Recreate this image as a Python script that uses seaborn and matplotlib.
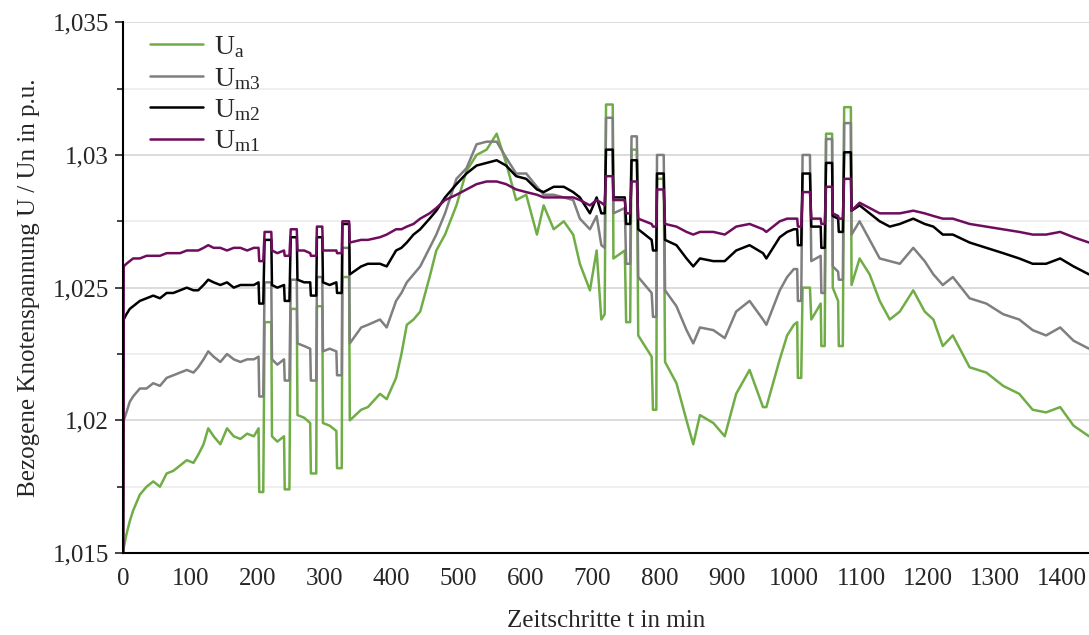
import numpy as np
import pandas as pd
import seaborn as sns
import matplotlib
matplotlib.use("Agg")
import matplotlib.pyplot as plt
from matplotlib.ticker import MultipleLocator

# Zeitschritte in min
t = [0, 1, 5, 10, 15, 25, 35, 45, 55, 65, 75, 85, 95, 105, 112, 120, 127, 135, 145, 155,
     165, 175, 185, 195, 202, 203, 209, 211, 221, 222, 230, 240, 241, 248, 250, 259, 260, 270,
     279, 280, 288, 289, 297, 298, 308, 318, 319, 326, 327, 337, 338, 355, 365, 383, 393, 407,
     415, 423, 433, 443, 457, 467, 480, 497, 512, 527, 542, 557, 571, 586, 601, 617, 627, 642,
     657, 671, 681, 696, 706, 713, 718, 720, 730, 731, 748, 750, 756, 758, 766, 768, 788, 790,
     795, 796, 806, 808, 825, 840, 850, 860, 880, 897, 914, 934, 954, 959, 979, 990, 1000,
     1005, 1006, 1011, 1013, 1024, 1026, 1040, 1041, 1046, 1048, 1057, 1058, 1066, 1067, 1073,
     1075, 1085, 1086, 1098, 1113, 1128, 1143, 1158, 1178, 1195, 1208, 1222, 1237, 1262, 1287,
     1312, 1336, 1356, 1376, 1397, 1417, 1440]

u_m1 = [1.0150, 1.0258, 1.0259, 1.0260, 1.0261, 1.0261, 1.0262, 1.0262, 1.0262, 1.0263, 1.0263,
        1.0263, 1.0264, 1.0264, 1.0264, 1.0265, 1.0266, 1.0265, 1.0265, 1.0264, 1.0265, 1.0265,
        1.0264, 1.0265, 1.0265, 1.0260, 1.0260, 1.0271, 1.0271, 1.0264, 1.0263, 1.0264, 1.0262,
        1.0262, 1.0272, 1.0272, 1.0264, 1.0264, 1.0263, 1.0262, 1.0262, 1.0273, 1.0273, 1.0264,
        1.0264, 1.0264, 1.0263, 1.0263, 1.0275, 1.0275, 1.0267, 1.0268, 1.0268, 1.0269, 1.0270,
        1.0272, 1.0272, 1.0273, 1.0274, 1.0276, 1.0278, 1.0280, 1.0283, 1.0285, 1.0287, 1.0289,
        1.0290, 1.0290, 1.0289, 1.0287, 1.0286, 1.0285, 1.0284, 1.0284, 1.0284, 1.0284, 1.0283,
        1.0281, 1.0283, 1.0282, 1.0281, 1.0292, 1.0292, 1.0283, 1.0283, 1.0278, 1.0278, 1.0290,
        1.0290, 1.0276, 1.0274, 1.0273, 1.0273, 1.0287, 1.0287, 1.0274, 1.0273, 1.0271, 1.0270,
        1.0271, 1.0271, 1.0270, 1.0273, 1.0274, 1.0272, 1.0271, 1.0275, 1.0276, 1.0276, 1.0276,
        1.0273, 1.0273, 1.0286, 1.0286, 1.0276, 1.0276, 1.0274, 1.0274, 1.0288, 1.0288, 1.0278,
        1.0277, 1.0276, 1.0276, 1.0291, 1.0291, 1.0279, 1.0282, 1.0280, 1.0278, 1.0278, 1.0278,
        1.0279, 1.0278, 1.0277, 1.0276, 1.0276, 1.0274, 1.0273, 1.0272, 1.0271, 1.0270, 1.0270,
        1.0271, 1.0269, 1.0267]

u_m2 = [1.0150, 1.0238, 1.0240, 1.0242, 1.0243, 1.0245, 1.0246, 1.0247, 1.0246, 1.0248, 1.0248,
        1.0249, 1.0250, 1.0249, 1.0249, 1.0251, 1.0253, 1.0252, 1.0251, 1.0252, 1.0250, 1.0251,
        1.0251, 1.0251, 1.0252, 1.0244, 1.0244, 1.0268, 1.0268, 1.0251, 1.0250, 1.0251, 1.0245,
        1.0245, 1.0269, 1.0269, 1.0253, 1.0252, 1.0252, 1.0247, 1.0247, 1.0269, 1.0269, 1.0252,
        1.0251, 1.0252, 1.0248, 1.0248, 1.0274, 1.0274, 1.0255, 1.0258, 1.0259, 1.0259, 1.0258,
        1.0264, 1.0265, 1.0267, 1.0270, 1.0272, 1.0276, 1.0279, 1.0284, 1.0289, 1.0293, 1.0296,
        1.0297, 1.0298, 1.0296, 1.0292, 1.0291, 1.0287, 1.0286, 1.0288, 1.0288, 1.0286, 1.0284,
        1.0278, 1.0284, 1.0278, 1.0278, 1.0302, 1.0302, 1.0284, 1.0284, 1.0274, 1.0274, 1.0298,
        1.0298, 1.0272, 1.0268, 1.0264, 1.0264, 1.0293, 1.0293, 1.0268, 1.0266, 1.0261, 1.0258,
        1.0261, 1.0260, 1.0260, 1.0264, 1.0266, 1.0263, 1.0261, 1.0269, 1.0271, 1.0272, 1.0272,
        1.0266, 1.0266, 1.0293, 1.0293, 1.0273, 1.0273, 1.0265, 1.0265, 1.0297, 1.0297, 1.0277,
        1.0276, 1.0271, 1.0271, 1.0301, 1.0301, 1.0279, 1.0281, 1.0278, 1.0275, 1.0273, 1.0274,
        1.0276, 1.0274, 1.0273, 1.0270, 1.0270, 1.0267, 1.0265, 1.0263, 1.0261, 1.0259, 1.0259,
        1.0261, 1.0258, 1.0255]

u_m3 = [1.0150, 1.0200, 1.0203, 1.0207, 1.0209, 1.0212, 1.0212, 1.0214, 1.0213, 1.0216, 1.0217,
        1.0218, 1.0219, 1.0218, 1.0220, 1.0223, 1.0226, 1.0224, 1.0222, 1.0225, 1.0223, 1.0222,
        1.0223, 1.0223, 1.0224, 1.0209, 1.0209, 1.0252, 1.0252, 1.0223, 1.0221, 1.0223, 1.0215,
        1.0215, 1.0253, 1.0253, 1.0229, 1.0228, 1.0227, 1.0215, 1.0215, 1.0254, 1.0254, 1.0226,
        1.0227, 1.0226, 1.0217, 1.0217, 1.0265, 1.0265, 1.0229, 1.0235, 1.0236, 1.0238, 1.0235,
        1.0245, 1.0248, 1.0252, 1.0255, 1.0258, 1.0265, 1.0270, 1.0278, 1.0291, 1.0295, 1.0304,
        1.0305, 1.0305, 1.0299, 1.0293, 1.0293, 1.0288, 1.0285, 1.0285, 1.0284, 1.0283, 1.0276,
        1.0272, 1.0277, 1.0266, 1.0265, 1.0314, 1.0314, 1.0278, 1.0280, 1.0259, 1.0259, 1.0307,
        1.0307, 1.0254, 1.0248, 1.0239, 1.0239, 1.0300, 1.0300, 1.0249, 1.0243, 1.0234, 1.0229,
        1.0235, 1.0234, 1.0231, 1.0241, 1.0245, 1.0238, 1.0236, 1.0249, 1.0254, 1.0257, 1.0257,
        1.0245, 1.0245, 1.0300, 1.0300, 1.0260, 1.0262, 1.0248, 1.0248, 1.0306, 1.0306, 1.0258,
        1.0256, 1.0253, 1.0253, 1.0312, 1.0312, 1.0270, 1.0275, 1.0268, 1.0261, 1.0260, 1.0259,
        1.0265, 1.0260, 1.0255, 1.0251, 1.0254, 1.0246, 1.0244, 1.0240, 1.0238, 1.0234, 1.0232,
        1.0235, 1.0230, 1.0227]

u_a = [1.0150, 1.0152, 1.0157, 1.0162, 1.0166, 1.0172, 1.0175, 1.0177, 1.0175, 1.0180, 1.0181,
       1.0183, 1.0185, 1.0184, 1.0187, 1.0191, 1.0197, 1.0194, 1.0191, 1.0197, 1.0194, 1.0193,
       1.0195, 1.0194, 1.0197, 1.0173, 1.0173, 1.0237, 1.0237, 1.0194, 1.0192, 1.0194, 1.0174,
       1.0174, 1.0242, 1.0242, 1.0202, 1.0201, 1.0199, 1.0180, 1.0180, 1.0243, 1.0243, 1.0199,
       1.0198, 1.0196, 1.0182, 1.0182, 1.0254, 1.0254, 1.0200, 1.0204, 1.0205, 1.0210, 1.0208,
       1.0216, 1.0225, 1.0236, 1.0238, 1.0241, 1.0254, 1.0264, 1.0270, 1.0281, 1.0294, 1.0300,
       1.0302, 1.0308, 1.0297, 1.0283, 1.0285, 1.0270, 1.0281, 1.0272, 1.0275, 1.0270, 1.0259,
       1.0249, 1.0264, 1.0238, 1.0240, 1.0319, 1.0319, 1.0261, 1.0264, 1.0237, 1.0237, 1.0302,
       1.0302, 1.0232, 1.0224, 1.0204, 1.0204, 1.0291, 1.0291, 1.0222, 1.0214, 1.0200, 1.0191,
       1.0202, 1.0199, 1.0194, 1.0210, 1.0219, 1.0205, 1.0205, 1.0223, 1.0232, 1.0236, 1.0237,
       1.0216, 1.0216, 1.0250, 1.0250, 1.0238, 1.0244, 1.0228, 1.0228, 1.0308, 1.0308, 1.0250,
       1.0245, 1.0228, 1.0228, 1.0318, 1.0318, 1.0251, 1.0261, 1.0255, 1.0245, 1.0238, 1.0241,
       1.0249, 1.0241, 1.0238, 1.0228, 1.0232, 1.0220, 1.0218, 1.0213, 1.0210, 1.0204, 1.0203,
       1.0205, 1.0198, 1.0194]

series_names = ["U_a", "U_m3", "U_m2", "U_m1"]
series_labels = [r"$\mathrm{U_{a}}$", r"$\mathrm{U_{m3}}$", r"$\mathrm{U_{m2}}$", r"$\mathrm{U_{m1}}$"]
colors = ["#70AD47", "#7F7F7F", "#000000", "#6E0D5E"]

x_ticks = list(range(0, 1401, 100))
y_ticks = [1.015, 1.02, 1.025, 1.03, 1.035]
y_tick_labels = ["1,015", "1,02", "1,025", "1,03", "1,035"]

df = pd.concat([
    pd.DataFrame({"t": t, "U": vals, "Reihe": name})
    for name, vals in zip(series_names, [u_a, u_m3, u_m2, u_m1])
])

sns.set_style("white")
plt.rcParams["font.family"] = ["Liberation Serif", "DejaVu Serif"]
plt.rcParams["mathtext.fontset"] = "custom"
plt.rcParams["mathtext.rm"] = "Liberation Serif"

fig = plt.figure(figsize=(10.89, 6.35), dpi=100)
ax = fig.add_axes([0.113, 0.129, 0.887, 0.836])

sns.lineplot(data=df, x="t", y="U", hue="Reihe", hue_order=series_names,
             palette=colors, estimator=None, sort=False, linewidth=1.8, ax=ax)

ax.set_xlim(0, 1440)
ax.set_ylim(1.015, 1.035)
ax.set_xticks(x_ticks)
ax.set_yticks(y_ticks)
ax.set_yticklabels(y_tick_labels)
ax.yaxis.set_minor_locator(MultipleLocator(0.0025))
ax.grid(axis="y", which="major", color="#d9d9d9", linewidth=1.3)
ax.grid(axis="y", which="minor", color="#eeeeee", linewidth=1.3)
ax.set_axisbelow(True)

for s in ["top", "right"]:
    ax.spines[s].set_visible(False)
for s in ["left", "bottom"]:
    ax.spines[s].set_color("black")
    ax.spines[s].set_linewidth(1.5)

ax.tick_params(axis="y", which="major", direction="out", length=6, width=1.2,
               labelsize=18, pad=4, left=True)
ax.tick_params(axis="y", which="minor", direction="out", length=4, width=1.2, left=True)
ax.tick_params(axis="x", length=0, labelsize=18, pad=11)

ax.set_xlabel("Zeitschritte t in min", fontsize=18, labelpad=14)
ax.set_ylabel("Bezogene Knotenspannung U / Un in p.u.", fontsize=18, labelpad=9)

handles, _ = ax.get_legend_handles_labels()
ax.legend(handles, series_labels, loc="upper left", bbox_to_anchor=(0.138, 0.946),
          bbox_transform=fig.transFigure, frameon=False, fontsize=20,
          handlelength=1.9, handletextpad=0.4, labelspacing=0.2,
          borderpad=0, borderaxespad=0)

fig.savefig("out.png", dpi=100)
